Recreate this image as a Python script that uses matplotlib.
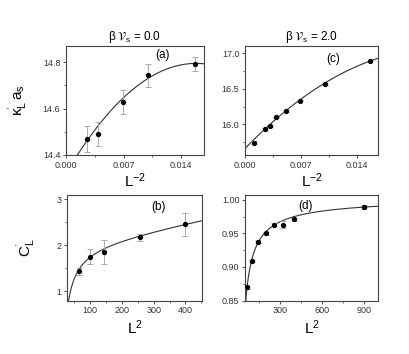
import numpy as np
import matplotlib
matplotlib.use('Agg')
import matplotlib.pyplot as plt
from matplotlib.ticker import MultipleLocator, FormatStrFormatter

plt.rcParams['font.family'] = ['Liberation Sans', 'DejaVu Sans']
plt.rcParams['mathtext.fontset'] = 'stixsans'
plt.rcParams['mathtext.default'] = 'regular'

# panel (a): beta V_s = 0.0, kappa'_L a_s vs L^-2
L_a = np.array([20, 16, 12, 10, 8])
kappa_a = [14.469, 14.491, 14.629, 14.743, 14.792]
kappa_a_err = [0.054, 0.053, 0.053, 0.050, 0.030]
# quadratic fit: y = top - k (x - x0)^2
fit_a_top, fit_a_k, fit_a_x0 = 14.795, 1900.0, 0.0158

# panel (b): beta V_s = 0.0, C'_L vs L^2
L_b = np.array([8, 10, 12, 16, 20])
c_b = [1.43, 1.75, 1.85, 2.17, 2.45]
c_b_err = [0.07, 0.16, 0.26, 0.08, 0.25]
# fit: y = a + b x - c / x
fit_b_a, fit_b_b, fit_b_c = 2.0015, 0.00137, 39.85

# panel (c): beta V_s = 2.0
L_c = np.array([30, 20, 18, 16, 14, 12, 10, 8])
kappa_c = [15.74, 15.934, 15.98, 16.099, 16.187, 16.328, 16.568, 16.896]
kappa_c_err = [0.02, 0.01, 0.01, 0.01, 0.01, 0.01, 0.01, 0.01]
fit_c = [15.662, 115.6, -2380.0]  # c0 + c1 x + c2 x^2

# panel (d): beta V_s = 2.0
L_d = np.array([8, 10, 12, 14, 16, 18, 20, 30])
c_d = [0.8695, 0.9086, 0.9377, 0.950, 0.9626, 0.9626, 0.9707, 0.9896]
c_d_err = [0.002, 0.002, 0.002, 0.002, 0.002, 0.005, 0.002, 0.003]
fit_d_a, fit_d_b, fit_d_c = 1.0078, 0.3744, -5.697  # a - b/L + c/L^2

W, H = 409, 354
fig = plt.figure(figsize=(W / 100, H / 100), dpi=100)


def make_ax(left, right, top, bottom):
    return fig.add_axes([left / W, 1 - bottom / H, (right - left) / W, (bottom - top) / H])


def style(ax):
    for s in ax.spines.values():
        s.set_color('#444444')
        s.set_linewidth(0.8)
    ax.tick_params(which='both', direction='out', labelsize=6.5, colors='#333333', pad=1.5)
    ax.tick_params(which='major', length=2.5, width=0.6)
    ax.tick_params(which='minor', length=1.5, width=0.5)


def draw(ax, x, y, err, xs, ys):
    ax.plot(xs, ys, color='#333333', lw=0.8)
    ax.errorbar(x, y, yerr=err, fmt='o', color='black', ms=2.8, ecolor='#aaaaaa',
                elinewidth=0.7, capsize=2, capthick=0.7, zorder=3)


ax_a = make_ax(66, 203.5, 46, 155)
ax_c = make_ax(245, 378.3, 46, 155)
ax_b = make_ax(67, 202, 195, 300.5)
ax_d = make_ax(245, 378.3, 195, 300.5)

# (a)
xs = np.linspace(0, 0.0167, 200)
draw(ax_a, 1.0 / L_a**2, kappa_a, kappa_a_err, xs, fit_a_top - fit_a_k * (xs - fit_a_x0)**2)
ax_a.set_xlim(0, 0.0167)
ax_a.set_ylim(14.4, 14.87)
ax_a.set_xticks([0, 0.007, 0.014])
ax_a.xaxis.set_major_formatter(FormatStrFormatter('%.3f'))
ax_a.xaxis.set_minor_locator(MultipleLocator(0.0035))
ax_a.set_yticks([14.4, 14.6, 14.8])
ax_a.yaxis.set_minor_locator(MultipleLocator(0.1))
ax_a.text(0.705, 0.92, '(a)', transform=ax_a.transAxes, ha='center', va='center', fontsize=8.5)
ax_a.set_title(r'$\beta\ \mathcal{V}_{s}$ = 0.0', fontsize=8.5, pad=4)
ax_a.set_xlabel(r'L$^{-2}$', fontsize=11, labelpad=1)
ax_a.set_ylabel(r"$\kappa^{'}_{L}\,a_{s}$", fontsize=11, labelpad=10)

# (c)
xs = np.linspace(0, 0.0167, 200)
draw(ax_c, 1.0 / L_c**2, kappa_c, kappa_c_err, xs, fit_c[0] + fit_c[1] * xs + fit_c[2] * xs**2)
ax_c.set_xlim(0, 0.0167)
ax_c.set_ylim(15.57, 17.1)
ax_c.set_xticks([0, 0.007, 0.014])
ax_c.xaxis.set_major_formatter(FormatStrFormatter('%.3f'))
ax_c.xaxis.set_minor_locator(MultipleLocator(0.0035))
ax_c.set_yticks([16.0, 16.5, 17.0])
ax_c.yaxis.set_major_formatter(FormatStrFormatter('%.1f'))
ax_c.yaxis.set_minor_locator(MultipleLocator(0.25))
ax_c.text(0.66, 0.885, '(c)', transform=ax_c.transAxes, ha='center', va='center', fontsize=8.5)
ax_c.set_title(r'$\beta\ \mathcal{V}_{s}$ = 2.0', fontsize=8.5, pad=4)
ax_c.set_xlabel(r'L$^{-2}$', fontsize=11, labelpad=1)

# (b)
xs = np.linspace(27, 452, 300)
draw(ax_b, L_b**2, c_b, c_b_err, xs, fit_b_a + fit_b_b * xs - fit_b_c / xs)
ax_b.set_xlim(27, 452)
ax_b.set_ylim(0.8, 3.09)
ax_b.set_xticks([100, 200, 300, 400])
ax_b.xaxis.set_minor_locator(MultipleLocator(50))
ax_b.set_yticks([1, 2, 3])
ax_b.yaxis.set_minor_locator(MultipleLocator(0.5))
ax_b.text(0.68, 0.89, '(b)', transform=ax_b.transAxes, ha='center', va='center', fontsize=8.5)
ax_b.set_xlabel(r'L$^{2}$', fontsize=11, labelpad=2.5)
ax_b.set_ylabel(r"$C^{'}_{L}$", fontsize=11, labelpad=14)

# (d)
xs = np.linspace(48, 1005, 400)
Ls = np.sqrt(xs)
draw(ax_d, L_d**2, c_d, c_d_err, xs, fit_d_a - fit_d_b / Ls + fit_d_c / Ls**2)
ax_d.set_xlim(48, 1005)
ax_d.set_ylim(0.85, 1.007)
ax_d.set_xticks([300, 600, 900])
ax_d.xaxis.set_minor_locator(MultipleLocator(150))
ax_d.set_yticks([0.85, 0.90, 0.95, 1.00])
ax_d.yaxis.set_major_formatter(FormatStrFormatter('%.2f'))
ax_d.yaxis.set_minor_locator(MultipleLocator(0.025))
ax_d.text(0.457, 0.895, '(d)', transform=ax_d.transAxes, ha='center', va='center', fontsize=8.5)
ax_d.set_xlabel(r'L$^{2}$', fontsize=11, labelpad=2.5)

for ax in (ax_a, ax_b, ax_c, ax_d):
    style(ax)

fig.savefig('out.png', dpi=100)
